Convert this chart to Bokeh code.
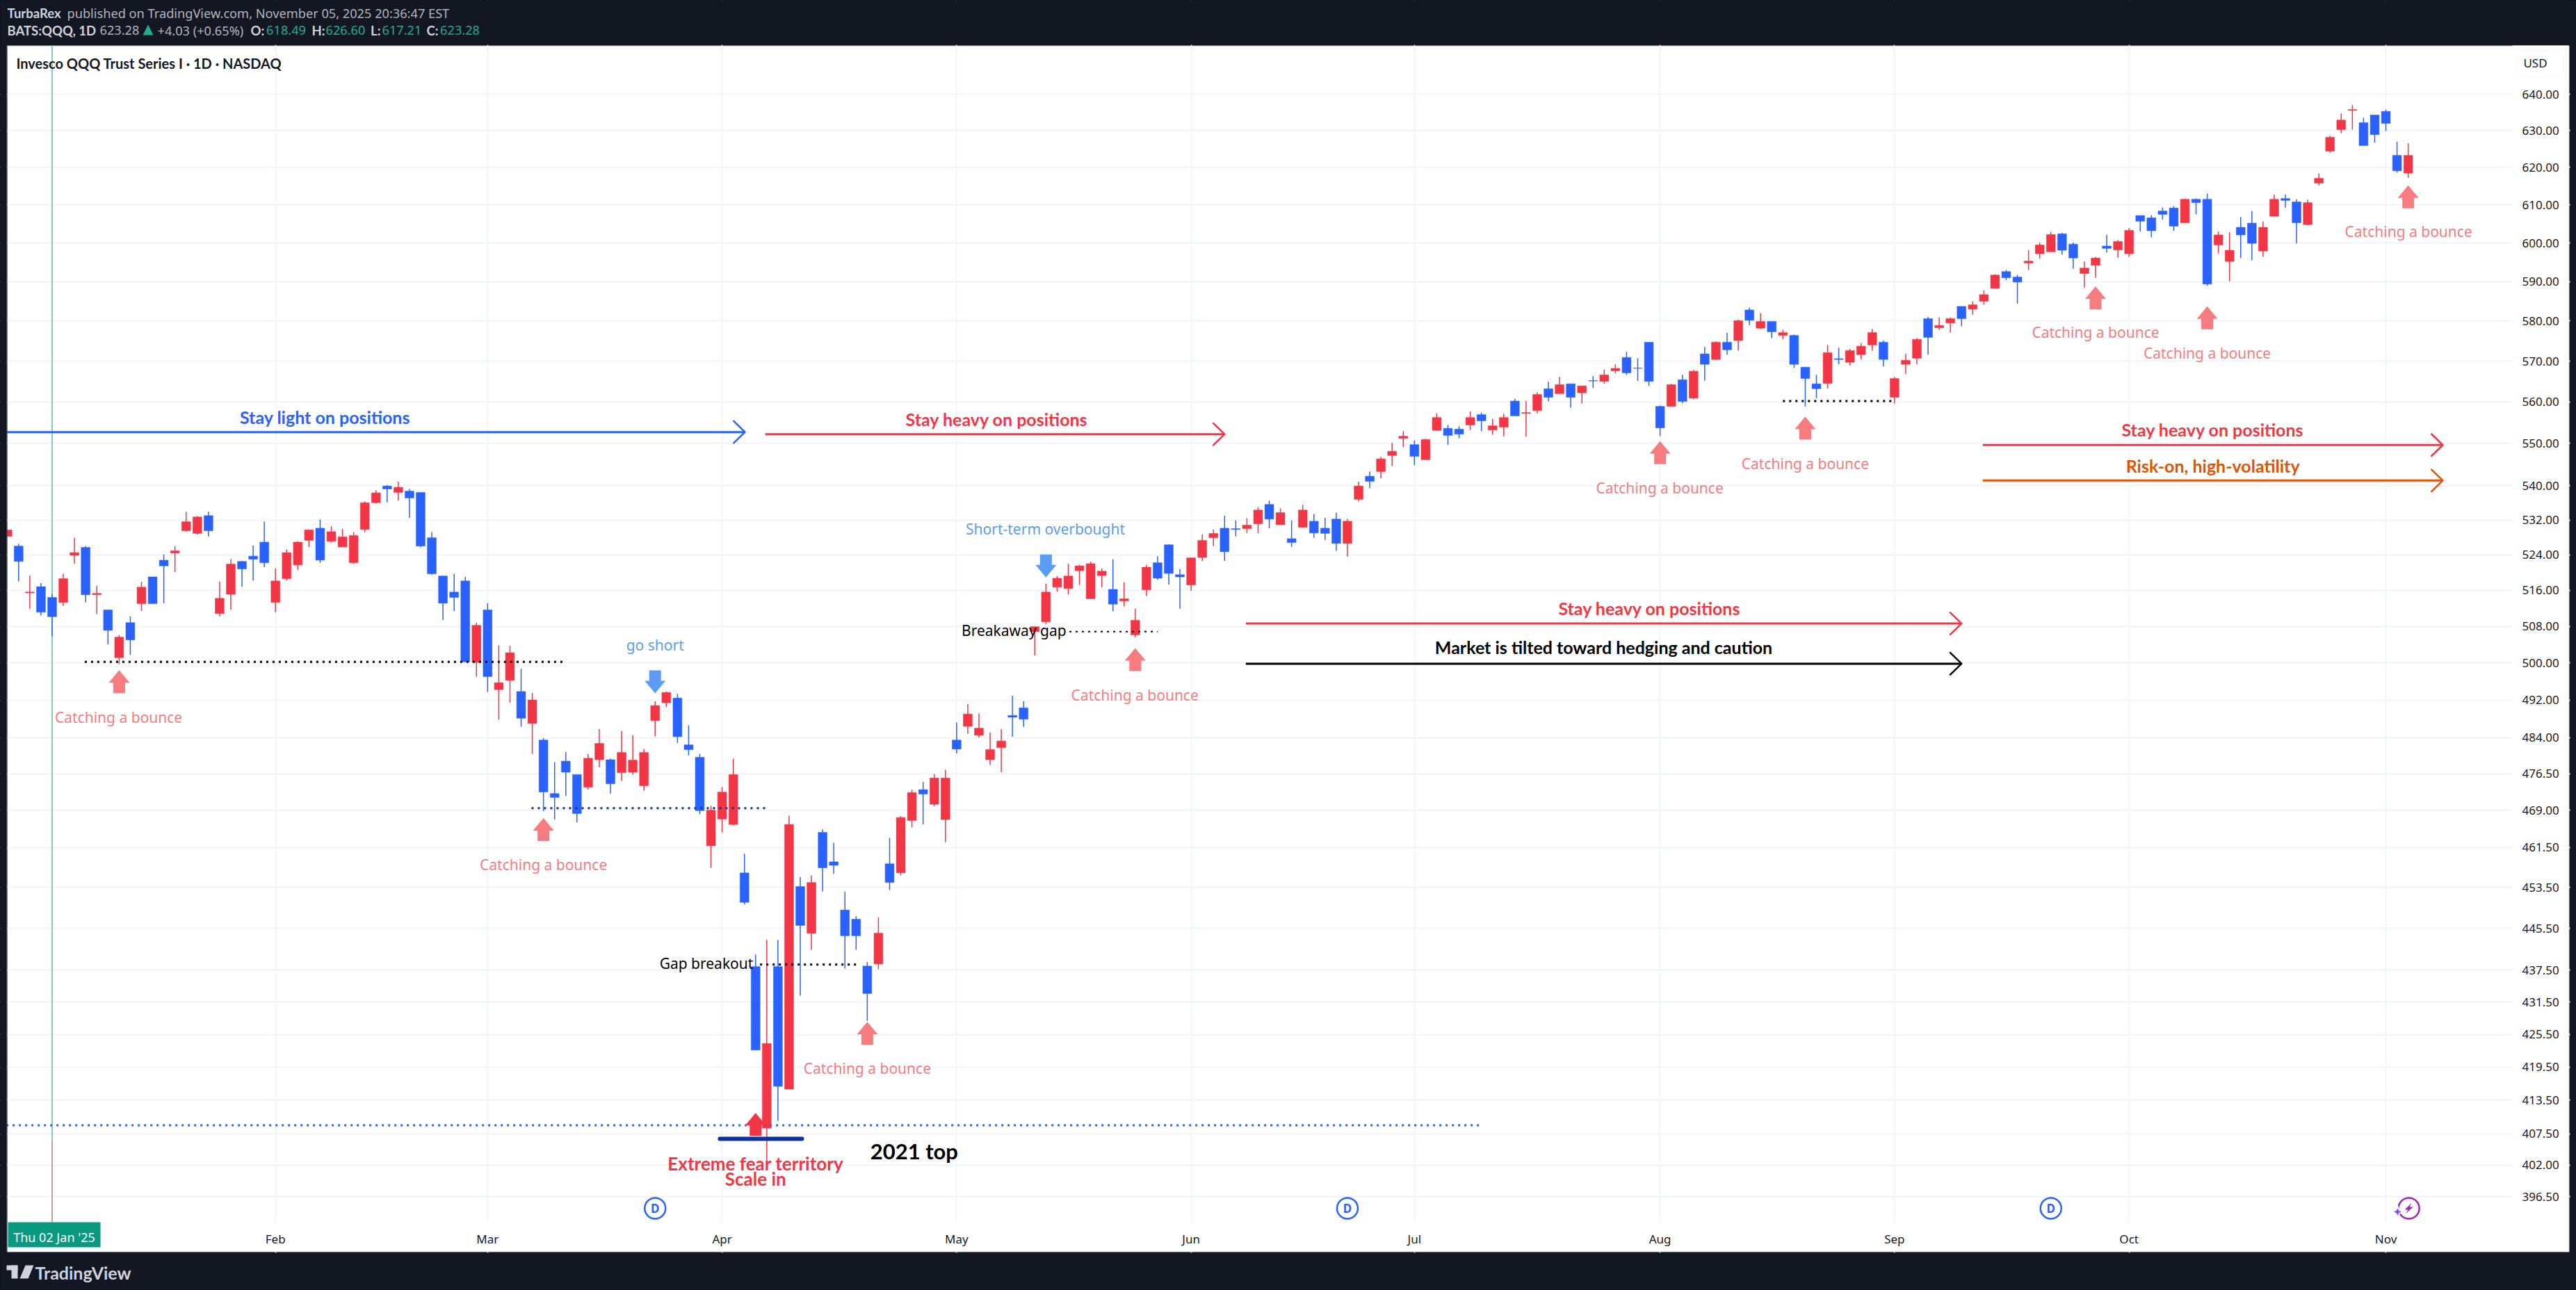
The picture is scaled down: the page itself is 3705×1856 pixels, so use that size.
import math
from bokeh.plotting import figure
from bokeh.models import (Range1d, FixedTicker, PrintfTickFormatter, BoxAnnotation, Label,
                          PolyAnnotation, ColumnDataSource)
from bokeh.core.properties import value
from bokeh.embed import file_html
from bokeh.resources import INLINE

# ---------- values ----------
first_index = -4
opens = [528.2,526.0,515.4,516.8,514.4,513.3,523.9,525.7,515.0,511.6,501.1,508.8,513.0,519.0,522.8,524.4,529.5,528.9,533.0,510.8,
515.1,522.5,523.7,526.9,513.3,518.6,521.7,527.3,530.1,527.1,525.8,522.2,529.8,536.0,539.9,538.4,538.7,538.4,527.9,519.2,
515.6,518.1,500.1,511.6,494.2,496.2,493.8,487.0,483.5,472.4,479.1,476.3,473.7,479.4,479.4,476.7,476.8,474.0,487.6,491.4,
492.4,482.5,479.9,461.8,467.2,466.1,456.4,438.2,408.5,438.2,415.5,453.7,444.6,464.5,458.6,449.1,447.3,438.3,438.7,458.2,
456.4,466.9,473.2,470.2,467.1,483.5,486.4,484.5,479.4,481.9,488.7,490.3,506.8,509.0,516.7,516.4,520.4,514.1,519.3,516.2,
513.6,506.1,516.1,522.2,526.3,519.5,517.2,523.4,527.9,530.1,530.0,530.0,531.1,535.6,530.9,527.7,530.3,531.7,530.1,532.2,
526.6,536.8,542.2,543.3,547.1,551.2,549.7,546.1,553.1,553.6,553.4,554.4,556.9,553.2,553.9,560.2,557.2,557.9,563.2,562.0,
564.4,562.2,565.2,565.0,567.6,570.9,568.3,574.7,558.9,558.9,565.4,560.9,571.8,570.4,574.7,575.1,582.8,578.2,579.9,576.4,
576.4,568.5,564.4,564.5,570.6,569.7,571.6,574.0,574.7,561.1,569.2,570.7,580.6,578.3,579.5,583.7,583.0,585.0,588.3,592.6,
591.2,594.8,597.2,597.7,602.4,599.7,592.1,594.2,599.2,598.2,597.2,607.2,606.6,608.4,609.2,605.3,611.5,611.5,599.5,595.2,
604.1,605.2,597.9,607.0,611.7,610.8,604.8,615.8,624.4,630.3,635.6,632.2,634.3,635.3,623.3,618.49]
highs = [529.7,526.5,519.3,517.6,515.2,519.7,527.9,526.0,517.0,511.6,506.1,510.2,517.9,519.0,524.1,526.0,533.9,532.9,533.9,517.9,
523.0,522.6,526.1,531.6,520.9,525.2,527.1,529.8,532.1,530.5,530.0,529.2,536.3,538.9,540.1,540.9,539.2,538.4,529.2,519.3,
519.7,519.0,508.8,513.1,503.8,503.7,498.7,493.5,483.9,478.9,481.0,476.3,480.6,485.8,479.6,485.4,484.5,481.6,491.7,493.8,
493.3,486.6,480.6,469.9,473.7,479.6,460.2,440.5,443.3,443.3,467.9,455.6,455.9,465.1,462.4,452.7,447.9,439.1,447.7,463.4,
467.8,473.2,474.8,476.4,477.3,487.2,491.1,489.1,485.1,485.8,492.9,491.7,507.9,517.5,519.2,522.0,521.7,522.5,520.9,523.0,
517.8,511.9,521.7,523.7,526.4,520.8,523.4,528.7,529.8,533.0,531.9,532.4,535.0,536.5,534.7,531.9,535.5,533.4,532.5,533.7,
532.2,540.9,543.3,546.8,550.1,552.9,550.7,551.1,557.2,554.4,554.1,557.7,557.4,555.9,557.1,560.7,560.2,562.3,564.9,566.1,
564.4,563.9,566.3,567.9,569.2,572.3,570.7,574.7,559.1,564.4,566.6,567.8,573.5,574.9,577.0,580.4,583.4,582.0,579.9,577.8,
576.6,568.5,566.6,574.0,573.3,573.0,574.5,578.0,575.1,566.1,571.8,575.7,581.1,580.9,580.9,583.7,585.0,587.8,591.9,593.0,
591.7,598.2,600.1,602.9,602.6,600.1,595.2,596.4,602.1,600.8,603.9,607.2,607.3,609.3,609.7,611.7,611.7,613.0,603.0,602.8,
606.8,608.4,605.6,612.8,612.8,611.5,611.4,618.4,628.6,634.7,637.0,633.5,634.3,635.8,627.0,626.60]
lows = [528.2,518.0,511.9,510.4,505.8,512.5,522.0,513.3,510.7,504.0,499.7,501.7,511.4,513.0,513.1,520.1,529.3,528.6,528.2,510.2,
511.7,516.8,518.2,521.2,511.1,518.2,520.6,525.8,522.2,526.8,525.8,522.0,529.2,535.8,536.1,536.5,532.5,525.7,519.5,509.4,
511.4,500.2,497.0,493.7,487.8,491.4,486.3,480.6,468.8,467.1,471.9,466.5,473.2,477.8,472.4,475.0,476.3,473.0,484.3,490.5,
482.9,480.3,468.2,457.4,464.5,465.9,450.2,422.6,402.7,409.8,415.5,432.7,441.4,452.7,456.2,437.8,441.4,428.0,437.7,453.0,
455.9,465.5,466.1,469.8,462.5,480.7,484.8,484.0,478.3,476.8,484.2,486.3,501.6,508.5,515.7,515.1,517.2,514.1,516.7,511.3,
512.4,505.6,514.7,518.4,517.3,511.9,515.9,522.6,526.0,522.6,528.2,529.0,528.9,530.1,530.9,525.8,530.3,527.9,527.4,524.9,
523.6,536.3,539.4,541.7,544.6,549.1,544.8,546.1,553.1,549.6,551.2,553.2,552.9,552.1,551.7,556.6,551.6,557.2,560.1,562.0,
558.6,559.6,563.4,564.4,567.0,566.6,565.1,563.9,551.7,558.9,559.7,560.6,565.2,570.2,571.6,572.6,579.0,578.0,575.7,575.4,
568.3,558.9,560.9,563.3,569.2,568.9,570.4,572.6,568.7,559.6,566.8,569.2,571.6,577.8,577.1,578.7,581.6,584.1,588.3,590.4,
584.4,593.0,595.9,597.7,597.0,593.3,588.5,591.0,597.5,596.2,596.4,603.0,601.5,606.1,603.2,605.3,607.5,589.0,597.3,590.1,
596.1,595.5,596.4,607.0,609.3,599.9,604.6,615.2,624.0,629.3,630.3,625.9,626.7,629.9,618.6,617.21]
closes = [529.7,522.5,515.6,511.1,510.1,518.6,524.5,515.0,515.3,507.1,505.6,505.0,516.7,513.0,521.5,524.9,531.6,532.7,529.5,514.2,
521.9,520.8,523.0,522.2,518.1,524.5,526.9,529.7,522.8,529.3,528.1,528.4,536.0,538.3,539.2,539.6,537.1,526.0,519.7,513.1,
514.4,500.2,508.2,497.0,495.7,502.2,488.1,492.0,472.7,471.6,476.8,468.3,479.7,482.8,474.4,480.9,479.3,480.9,490.8,493.6,
484.2,481.5,468.9,469.0,472.7,476.3,450.6,422.6,423.8,416.0,466.1,446.1,454.5,457.4,457.9,444.1,444.1,433.1,444.6,454.5,
467.5,472.6,472.3,475.6,475.6,481.6,489.0,486.0,481.5,483.3,488.3,487.9,507.9,515.6,518.7,519.2,521.5,522.0,520.3,512.9,
514.1,509.3,521.2,518.7,519.8,519.0,523.3,527.3,528.9,524.7,529.8,530.8,534.3,532.2,533.7,526.8,534.3,529.0,528.9,526.6,
531.7,539.9,541.0,546.3,548.1,551.7,546.9,550.9,556.2,551.9,552.2,556.2,555.4,554.2,556.2,556.6,557.4,561.8,561.1,564.2,
561.1,563.9,565.1,566.6,568.2,567.1,568.2,565.0,553.7,564.2,560.1,567.5,569.2,574.7,572.8,580.1,580.2,579.9,577.3,577.1,
569.2,565.7,563.2,572.1,570.4,572.6,573.7,577.1,570.4,565.7,570.2,575.4,575.9,578.9,580.6,580.6,584.1,586.7,591.7,591.0,
589.9,595.3,599.5,602.2,598.1,596.1,593.5,596.1,598.6,600.4,603.3,605.7,603.2,607.5,604.4,611.5,610.6,589.4,602.1,598.1,
602.1,599.9,604.1,611.5,611.2,605.3,610.6,617.1,628.2,632.9,635.8,625.9,628.9,632.0,619.1,623.28]

price_ticks = [640,630,620,610,600,590,580,570,560,550,540,532,524,516,508,500,492,484,476.5,469,461.5,453.5,
               445.5,437.5,431.5,425.5,419.5,413.5,407.5,402,396.5]
month_ticks = [20,39,60,81,102,122,144,165,186,209]
month_names = ["Feb","Mar","Apr","May","Jun","Jul","Aug","Sep","Oct","Nov"]

bounce_x = [5.95,44,73,96.96,143.97,157,183,193,211.03]
bounce_y = [488.0,457.8,419.0,492.8,539.2,544.9,576.8,571.7,602.6]
up_arrow_x = [6,44,73,97,144,157,183,193,211]
up_arrow_tip = [498.4,467.4,427.8,503.2,550.5,556.4,588.8,583.7,615.2]
red_arrow_x, red_arrow_tip = [63], [411.2]
down_arrow_x, down_arrow_tip = [54,89], [493.4,518.9]

# start, end, price, colour, label, label_x, label_price
trend_arrows = [
 (-4.1,62.05,552.7,"#2962FF","Stay light on positions",24.44,556.0),
 (63.86,105.0,552.2,"#F23645","Stay heavy on positions",84.6,555.5),
 (106.9,171.0,508.6,"#F23645","Stay heavy on positions",143.06,511.7),
 (106.9,171.0,499.8,"#000000","Market is tilted toward hedging and caution",138.95,503.1),
 (172.9,214.1,549.6,"#F23645","Stay heavy on positions",193.5,553.0),
 (172.9,214.1,541.2,"#E65100","Risk-on, high-volatility",193.5,544.4),
]
# start, end, price, colour, width
dotted = [
 (2.92,45.7,500.2,"#000000",3),
 (42.93,63.9,469.4,"#0C3299",3),
 (63.4,72.0,438.6,"#000000",3),
 (91.1,99.0,506.8,"#000000",2),
 (155.0,164.75,560.2,"#000000",3),
 (-4.1,127.9,409.0,"#2962FF",3),
]
dividend_x = [54,116,179]

# ---------- layout constants ----------
FONT, HEAD = "Noto Sans", "Lato"
W, H = 3705, 1856
L_, R_, T_, B_ = 10, 3613, 66, 1758
X0, PX_PER_BAR = 74.5, 16.06
PX_PER_LOG = 3312.8
DARK, RED, BLUE, PINK, SKY = "#131722", "#F23645", "#2962FF", "#F77C80", "#5B9CF6"

def price_at(y):
    return 640.0 * math.exp(-(y - 135.3) / PX_PER_LOG)
def bar_at(x):
    return (x - X0) / PX_PER_BAR

# the plot area spans the whole page; the pane, scales and axes sit inside it
p = figure(width=W, height=H, output_backend="svg", toolbar_location=None,
           x_range=Range1d(bar_at(0), bar_at(W)), y_range=Range1d(price_at(H), price_at(0)),
           y_axis_type="log", y_axis_location="right",
           min_border=0, min_border_left=0, min_border_right=0, min_border_top=0, min_border_bottom=0)
p.border_fill_color = DARK
p.background_fill_color = DARK
p.outline_line_color = None

def box(l, t, r, b, **kw):
    kw.setdefault("line_color", None)
    kw.setdefault("fill_alpha", 1)
    return BoxAnnotation(left=l, right=r, top=t, bottom=b, left_units="canvas", right_units="canvas",
                         top_units="canvas", bottom_units="canvas", **kw)

p.add_layout(box(9, 65, 3695, 1801, fill_color="#FFFFFF", line_color="#2A2E39", line_width=2, level="image"))

# axes
p.yaxis.ticker = FixedTicker(ticks=price_ticks, minor_ticks=[])
p.yaxis.formatter = PrintfTickFormatter(format="%.2f")
p.xaxis.ticker = FixedTicker(ticks=month_ticks, minor_ticks=[])
p.xaxis.major_label_overrides = dict(zip(month_ticks, month_names))
p.yaxis[0].fixed_location = bar_at(R_)
p.xaxis[0].fixed_location = price_at(B_)
for ax in (p.xaxis[0], p.yaxis[0]):
    ax.axis_line_color = None
    ax.major_tick_line_color = None
    ax.major_tick_out = 0
    ax.major_tick_in = 0
    ax.major_label_text_font = FONT
    ax.major_label_text_font_size = "17px"
    ax.major_label_text_color = DARK
p.yaxis[0].major_label_standoff = 14
p.xaxis[0].major_label_standoff = 12
p.ygrid.ticker = FixedTicker(ticks=price_ticks, minor_ticks=[])
p.xgrid.ticker = FixedTicker(ticks=month_ticks, minor_ticks=[])
p.ygrid.grid_line_color = "#F0F3FA"
p.ygrid.grid_line_width = 2
p.xgrid.grid_line_color = "#F0F3FA"
p.xgrid.grid_line_width = 1.5

# masks that stop the grid at the pane's edge
for b_ in [(R_, T_-1, 3694, 1800, "#FFFFFF"), (L_, B_, R_, 1800, "#FFFFFF"),
           (0, 0, W, 64, DARK), (0, 1802, W, H, DARK), (3696, 0, W, H, DARK)]:
    p.add_layout(box(b_[0], b_[1], b_[2], b_[3], fill_color=b_[4], level="underlay"))

def px_x(i, dx):
    return i + dx / PX_PER_BAR
def px_y(pr, dy):
    return pr * math.exp(-dy / PX_PER_LOG)

# crosshair
split = price_at(1640)
p.segment([0,0],[price_at(T_),split],[0,0],[split,price_at(B_)], line_color=["#089981","#8A3A48"], line_width=1)

# candles
idx = list(range(first_index, first_index+len(closes)))
cols = [RED if c >= o else BLUE for o, c in zip(opens, closes)]
src = ColumnDataSource(dict(x=idx, o=opens, h=highs, l=lows, c=closes,
                            top=[max(a,b) for a,b in zip(opens,closes)],
                            bot=[min(a,b) for a,b in zip(opens,closes)], col=cols))
p.segment("x","h","x","l", source=src, line_color="col", line_width=1.5)
p.vbar("x", 0.8, "bot", "top", source=src, fill_color="col", line_color="col", line_width=0.5)

# dotted levels
for a,b,pr,c,w in dotted:
    p.line([a,b],[pr,pr], line_color=c, line_width=w, line_dash="3 6")
p.line([59.8,67.15],[406.6,406.6], line_color="#0C3299", line_width=6, line_cap="round")

# block arrows
def arrow_patch(i, tip, sgn):
    hw, sw, hh, tot = 15, 8.5, 18, 33
    pts = [(0,0),(hw,hh),(sw,hh),(sw,tot),(-sw,tot),(-sw,hh),(-hw,hh)]
    return [px_x(i,a) for a,_ in pts], [px_y(tip,sgn*b) for _,b in pts]
def draw_arrows(xs, tips, sgn, col):
    P = [arrow_patch(i,t,sgn) for i,t in zip(xs,tips)]
    p.patches([a for a,_ in P],[b for _,b in P], fill_color=col, line_color=None)
draw_arrows(up_arrow_x, up_arrow_tip, 1, PINK)
draw_arrows(red_arrow_x, red_arrow_tip, 1, RED)
draw_arrows(down_arrow_x, down_arrow_tip, -1, SKY)

def txt(x, y, s, col, size, bold=False, align="center", font=FONT, dy=-2):
    p.text([x],[y],text=[s], text_color=col, text_font=value(font), text_font_size=f"{size}px",
           text_align=align, text_baseline="middle", text_font_style="bold" if bold else "normal", y_offset=dy)

# trend arrows
for a,b,pr,c,label,lx,ly in trend_arrows:
    p.line([a,b],[pr,pr], line_color=c, line_width=3)
    p.line([px_x(b,-17),b,px_x(b,-17)],[px_y(pr,-16.5),pr,px_y(pr,16.5)], line_color=c, line_width=2.5, line_join="round")
    txt(lx,ly,label,c,25,True,font=HEAD)

for x,y in zip(bounce_x,bounce_y):
    txt(x,y,"Catching a bounce",PINK,21)
txt(54,503.5,"go short",SKY,21)
txt(88.95,529.65,"Short-term overbought",SKY,21)
txt(54.4,438.5,"Gap breakout","#000000",21,False,"left")
txt(81.45,506.8,"Breakaway gap","#000000",21,False,"left")
txt(63,402.0,"Extreme fear territory",RED,26,True,font=HEAD)
txt(63,399.35,"Scale in",RED,26,True,font=HEAD)
txt(77.2,404.2,"2021 top","#000000",31,True,font=HEAD)

# event badges
badge_y = price_at(1738)
p.scatter(dividend_x,[badge_y]*3,size=30,marker="circle",fill_color="#FFFFFF",line_color=BLUE,line_width=2.5)
for x in dividend_x:
    txt(x,badge_y,"D",BLUE,17,True,dy=0)
p.scatter([211.06],[badge_y],size=30,marker="circle",fill_color="#FFFFFF",line_color="#9C27B0",line_width=2.5)
bolt = [(4,-8),(-6,2),(-1,2),(-5,8),(6,-2),(1,-2)]
p.patch([px_x(211.06,a) for a,_ in bolt],[px_y(badge_y,b) for _,b in bolt], fill_color="#9C27B0", line_color=None)
star = [(0,-8),(2.4,-2.4),(8,0),(2.4,2.4),(0,8),(-2.4,2.4),(-8,0),(-2.4,-2.4)]
p.patch([px_x(210.05,a) for a,_ in star],[px_y(price_at(1743),b) for _,b in star], fill_color="#7B4DFF", line_color="#FFFFFF", line_width=2)

# left strip above everything, so candles stop at the pane's edge
p.add_layout(box(0, 0, 9, H, fill_color=DARK, level="overlay"))
p.add_layout(box(9, 65, 10, 1801, fill_color="#2A2E39", level="overlay"))

def lab(x, y, s, col, size, bold=False, align="left", font=FONT):
    p.add_layout(Label(x=x, y=H-y, x_units="screen", y_units="screen", text=s, text_color=col,
                       text_font=font, text_font_size=f"{size}px", text_align=align, text_baseline="middle",
                       text_font_style="bold" if bold else "normal", level="overlay"))

C1, C2, TEAL = "#D1D4DC", "#B2B5BE", "#22AB94"
# crosshair date tag
p.add_layout(box(11,1758,144,1794,fill_color="#089981",level="overlay"))
lab(77.5,1779,"Thu 02 Jan '25","#FFFFFF",18,False,"center")

lab(10,18,"TurbaRex",C1,18.5,True,font=HEAD)
lab(96,18,"published on TradingView.com, November 05, 2025 20:36:47 EST",C2,18.2)
lab(10,43,"BATS:QQQ, 1D",C1,18.5,True,font=HEAD)
lab(143,43,"623.28",C2,18.2)
p.add_layout(PolyAnnotation(xs=[205,220,212.5], ys=[50,50,35], xs_units="canvas", ys_units="canvas",
                            fill_color=TEAL, fill_alpha=1, line_color=None, level="overlay"))
lab(226,43,"+4.03 (+0.65%)",C2,18.2)
for x,s,xv,v in [(360,"O:",382.6,"618.49"),(448,"H:",468,"626.60"),(532.6,"L:",549,"617.21"),(613,"C:",632.6,"623.28")]:
    lab(x,43,s,C1,18.5,True,font=HEAD)
    lab(xv,43,v,TEAL,18.2)
lab(23,90.7,"Invesco QQQ Trust Series I · 1D · NASDAQ",DARK,20,True,font=HEAD)
lab(3646,90,"USD",DARK,17,False,"center")
p.add_layout(box(3620,72,3687,110,fill_alpha=0,line_color="#F0F3FA",line_width=2,border_radius=6,level="underlay"))

# footer logo
G = "#D1D4DC"
p.add_layout(box(9,1820,25,1827,fill_color=G,level="overlay"))
p.add_layout(box(16,1820,25,1839,fill_color=G,level="overlay"))
p.add_layout(PolyAnnotation(xs=[36,48,40,28], ys=[1820,1820,1839,1839], xs_units="canvas", ys_units="canvas",
                            fill_color=G, fill_alpha=1, line_color=None, level="overlay"))
lab(50,1830,"TradingView",G,25,True,font=HEAD)

html = file_html(p, INLINE)
html = html.replace("<head>", "<head><style>html,body{background:#131722}</style>", 1)
open("out.html","w").write(html)
